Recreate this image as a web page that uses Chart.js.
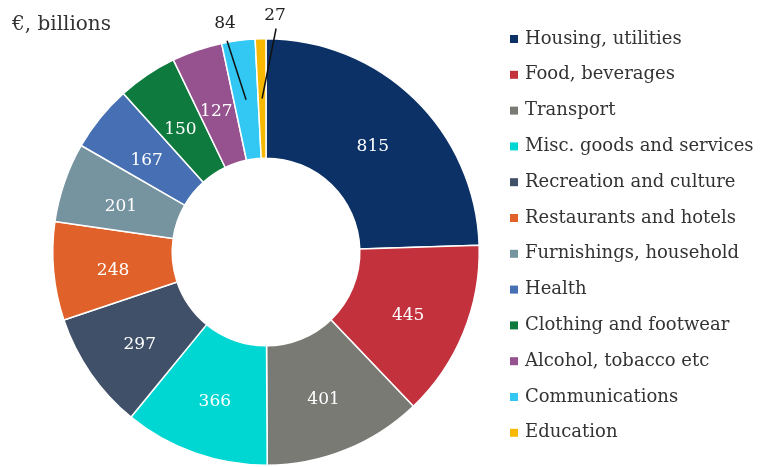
<!DOCTYPE html>
<html>
<head>
<meta charset="utf-8">
<script src="https://cdn.jsdelivr.net/npm/chart.js@4.4.1/dist/chart.umd.min.js"></script>
<style>
  html, body { margin: 0; padding: 0; background: #fff; }
</style>
</head>
<body>
<canvas id="spend" width="765" height="467"></canvas>
<script>
// household spending by category, € billions
var categories = ['Housing, utilities', 'Food, beverages', 'Transport', 'Misc. goods and services',
    'Recreation and culture', 'Restaurants and hotels', 'Furnishings, household', 'Health',
    'Clothing and footwear', 'Alcohol, tobacco etc', 'Communications', 'Education'];
var values = [815, 445, 401, 366, 297, 248, 201, 167, 150, 127, 84, 27];
var colours = ['#0c3166', '#c3313d', '#7a7a75', '#00d7d3', '#405069', '#e0622a',
    '#7693a0', '#4670b3', '#0e7a3d', '#96518f', '#33c8f3', '#f9b800'];
var title = '€, billions';

var serif = '"DejaVu Serif", serif';

// little leader lines for the two thin slices at the top
var outside = {
    10: { line: [-19, -59], text: [-21, -76] },
    11: { line: [14, -70], text: [13, -83] }
};

var labelPlugin = {
    id: 'sliceLabels',
    afterDatasetsDraw: function (chart) {
        var ctx = chart.ctx;
        var arcs = chart.getDatasetMeta(0).data;
        ctx.save();
        ctx.font = '17px ' + serif;
        ctx.textAlign = 'center';
        ctx.textBaseline = 'middle';
        arcs.forEach(function (arc, i) {
            var p = arc.getCenterPoint();
            var o = outside[i];
            if (o) {
                ctx.strokeStyle = '#111';
                ctx.lineWidth = 1.5;
                ctx.beginPath();
                ctx.moveTo(p.x, p.y);
                ctx.lineTo(p.x + o.line[0], p.y + o.line[1]);
                ctx.stroke();
                ctx.fillStyle = '#222';
                ctx.fillText(values[i], p.x + o.text[0], p.y + o.text[1]);
            } else {
                ctx.fillStyle = '#fff';
                ctx.fillText(values[i], p.x, p.y + 5);
            }
        });
        ctx.restore();
    }
};

var legendPlugin = {
    id: 'sideLegend',
    afterDraw: function (chart) {
        var ctx = chart.ctx;
        ctx.save();
        ctx.font = '20px ' + serif;
        ctx.fillStyle = '#333';
        ctx.textBaseline = 'alphabetic';
        ctx.textAlign = 'left';
        ctx.fillText(title, 12, 30);

        ctx.font = '18px ' + serif;
        ctx.textBaseline = 'middle';
        for (var i = 0; i < categories.length; i++) {
            var y = 39 + i * 35.8;
            ctx.fillStyle = colours[i];
            ctx.fillRect(510, y - 4, 8, 8);
            ctx.fillStyle = '#333';
            ctx.fillText(categories[i], 525, y);
        }
        ctx.restore();
    }
};

var myChart = new Chart(document.getElementById('spend').getContext('2d'), {
    type: 'doughnut',
    data: {
        labels: categories,
        datasets: [{
            data: values,
            backgroundColor: colours,
            borderColor: '#ffffff',
            borderWidth: 1.5
        }]
    },
    options: {
        responsive: false,
        animation: false,
        cutout: '44%',
        layout: { padding: { left: 52, right: 285, top: 38, bottom: 1 } },
        plugins: {
            legend: { display: false },
            tooltip: { enabled: false }
        }
    },
    plugins: [labelPlugin, legendPlugin]
});
</script>
</body>
</html>
